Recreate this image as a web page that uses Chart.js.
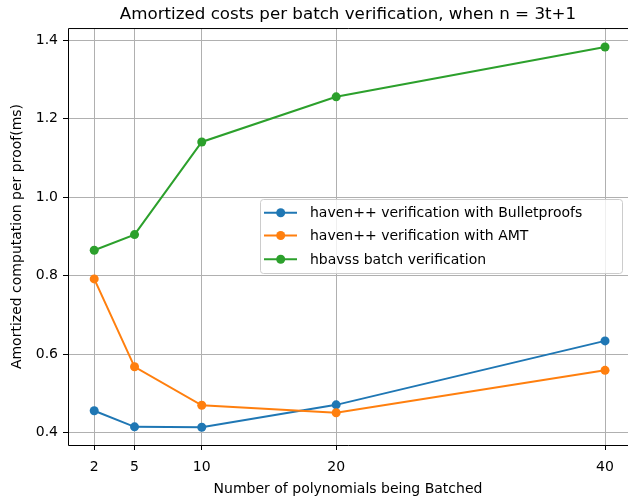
<!DOCTYPE html>
<html lang="en">
<head>
    <meta charset="UTF-8">
    <title>Amortized costs per batch verification</title>
    <script src="https://cdn.jsdelivr.net/npm/chart.js"></script>
    <style>
        body {
            margin: 0;
            background: white;
        }
        #wrap {
            width: 628px;
            height: 503px;
        }
    </style>
</head>
<body>
    <div id="wrap">
        <canvas id="costChart" width="628" height="503"></canvas>
    </div>

    <script>
        // Daten
        const batchSizes = [2, 5, 10, 20, 40];
        const bulletproofs = [0.456, 0.415, 0.414, 0.471, 0.634];
        const amt = [0.792, 0.568, 0.470, 0.451, 0.559];
        const hbavss = [0.865, 0.905, 1.141, 1.256, 1.383];
        const xTicks = [2, 5, 10, 20, 40];
        const yTicks = [0.4, 0.6, 0.8, 1.0, 1.2, 1.4];
        const seriesNames = [
            'haven++ verification with Bulletproofs',
            'haven++ verification with AMT',
            'hbavss batch verification'
        ];
        const seriesColors = ['#1f77b4', '#ff7f0e', '#2ca02c'];

        const FONT = 'DejaVu Sans, sans-serif';

        function toPoints(values) {
            return batchSizes.map((x, i) => ({ x: x, y: values[i] }));
        }

        // Rahmen (links, oben, unten) und Legende im Plotbereich
        const framePlugin = {
            id: 'frame',
            afterDraw(chart) {
                const ctx = chart.ctx;
                const a = chart.chartArea;
                ctx.save();
                ctx.strokeStyle = '#000';
                ctx.lineWidth = 1;
                ctx.beginPath();
                ctx.moveTo(a.left + 0.5, a.top + 0.5);
                ctx.lineTo(a.left + 0.5, a.bottom + 0.5);
                ctx.lineTo(a.right, a.bottom + 0.5);
                ctx.moveTo(a.left + 0.5, a.top + 0.5);
                ctx.lineTo(a.right, a.top + 0.5);
                ctx.stroke();

                // Legende
                const box = { x: 260, y: 199, w: 362, h: 74 };
                ctx.fillStyle = 'rgba(255,255,255,0.8)';
                ctx.strokeStyle = '#cccccc';
                ctx.beginPath();
                ctx.roundRect(box.x + 0.5, box.y + 0.5, box.w, box.h, 3);
                ctx.fill();
                ctx.stroke();

                const rows = [212.7, 235.5, 259.3];
                ctx.font = '14px ' + FONT;
                ctx.textBaseline = 'middle';
                ctx.textAlign = 'left';
                seriesNames.forEach((name, i) => {
                    const y = rows[i];
                    ctx.strokeStyle = seriesColors[i];
                    ctx.lineWidth = 2;
                    ctx.beginPath();
                    ctx.moveTo(264, y);
                    ctx.lineTo(297, y);
                    ctx.stroke();
                    ctx.fillStyle = seriesColors[i];
                    ctx.beginPath();
                    ctx.arc(280.7, y, 4.5, 0, Math.PI * 2);
                    ctx.fill();
                    ctx.fillStyle = '#000';
                    ctx.fillText(name, 310, y + 1);
                });
                ctx.restore();
            }
        };

        const values = [bulletproofs, amt, hbavss];
        const datasets = values.map((v, i) => ({
            label: seriesNames[i],
            data: toPoints(v),
            borderColor: seriesColors[i],
            backgroundColor: seriesColors[i],
            borderWidth: 2,
            pointRadius: 4.5,
            pointBorderWidth: 0,
            pointHoverRadius: 4.5,
            tension: 0,
            clip: 6,
            order: 3 - i
        }));

        new Chart(document.getElementById('costChart').getContext('2d'), {
            type: 'line',
            data: { datasets: datasets },
            plugins: [framePlugin],
            options: {
                responsive: false,
                animation: false,
                layout: {
                    autoPadding: false,
                    padding: { left: 0, right: 0, top: 0, bottom: 0 }
                },
                plugins: {
                    legend: { display: false },
                    tooltip: { enabled: false },
                    title: {
                        display: true,
                        text: 'Amortized costs per batch verification, when n = 3t+1',
                        color: '#000',
                        fullSize: false,
                        font: { family: FONT, size: 16.7, weight: 'normal' },
                        padding: { top: 5, bottom: 3 }
                    }
                },
                scales: {
                    x: {
                        type: 'linear',
                        min: 0.05,
                        max: 41.71,
                        afterFit(scale) {
                            scale.height = 58;
                            scale.paddingLeft = 0;
                            scale.paddingRight = 0;
                        },
                        afterBuildTicks(scale) {
                            scale.ticks = xTicks.map(v => ({ value: v }));
                        },
                        grid: {
                            color: '#b0b0b0',
                            lineWidth: 1,
                            tickColor: '#000',
                            tickLength: 5
                        },
                        border: { display: false },
                        ticks: {
                            color: '#000',
                            font: { family: FONT, size: 14 },
                            padding: 8.5,
                            maxRotation: 0
                        },
                        title: {
                            display: true,
                            text: 'Number of polynomials being Batched',
                            color: '#000',
                            font: { family: FONT, size: 14 },
                            padding: { top: 0, bottom: 5.6 }
                        }
                    },
                    y: {
                        type: 'linear',
                        min: 0.3687,
                        max: 1.4313,
                        afterFit(scale) { scale.width = 68; },
                        afterBuildTicks(scale) {
                            scale.ticks = yTicks.map(v => ({ value: v }));
                        },
                        grid: {
                            color: '#b0b0b0',
                            lineWidth: 1,
                            tickColor: '#000',
                            tickLength: 5
                        },
                        border: { display: false },
                        ticks: {
                            color: '#000',
                            font: { family: FONT, size: 14 },
                            padding: 5,
                            callback: v => v.toFixed(1)
                        },
                        title: {
                            display: true,
                            text: 'Amortized computation per proof(ms)',
                            color: '#000',
                            font: { family: FONT, size: 14 },
                            padding: { top: 8.6, bottom: 0 }
                        }
                    }
                }
            }
        });
    </script>
</body>
</html>
